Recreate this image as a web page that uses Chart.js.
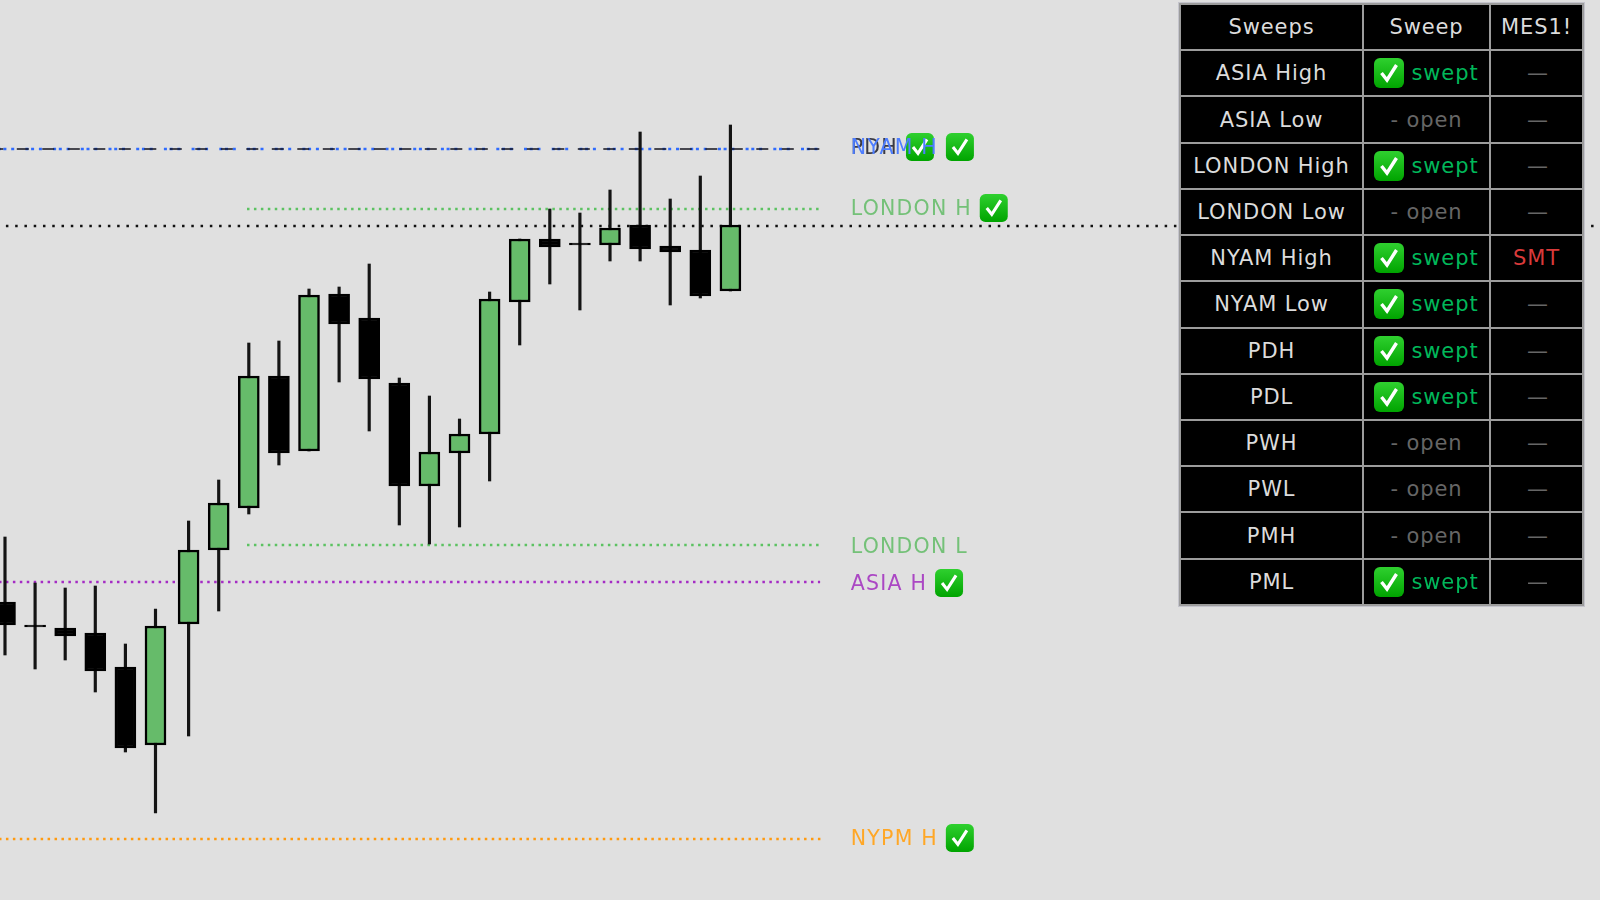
<!DOCTYPE html>
<html>
<head>
<meta charset="utf-8">
<title>Sweeps</title>
<script src="https://cdn.jsdelivr.net/npm/chart.js@4"></script>
<style>
html, body { margin: 0; padding: 0; background: #e0e0e0; width: 1600px; height: 900px; overflow: hidden; }
#grafica { position: absolute; left: 0; top: 0; filter: blur(0.5px); }
#tabla {
    position: absolute; left: 1179px; top: 3px; width: 405px; height: 603px;
    border-collapse: collapse; table-layout: fixed; background: #000;
    font-family: "DejaVu Sans", sans-serif; font-size: 21px; letter-spacing: 0.9px;
    filter: blur(0.5px); outline: 1px solid #c4c4cc;
}
#tabla td { border: 2px solid #9c9c9c; padding: 0; text-align: center; color: #dcdcdc; white-space: nowrap; height: 44px; }
#tabla td.swept { color: #00b85a; }
#tabla td.open { color: #666; }
#tabla td.none { color: #666; padding-left: 3px; }
#tabla td.smt { color: #d93a3a; }
#tabla svg { vertical-align: -8px; margin-right: 7px; }
</style>
</head>
<body>
<canvas id="grafica" width="1600" height="900"></canvas>
<table id="tabla"></table>
<script>
// velas
const barX   = [0, 1, 2, 3, 4, 5, 6.1, 7.1, 8.1, 9.1, 10.1, 11.1, 12.1, 13.1, 14.1, 15.1, 16.1, 17.1, 18.1, 19.1, 20.1, 21.1, 22.1, 23.1, 24.1];
const opens  = [6074.5, 6068.75, 6068, 6066.75, 6058.25, 6038.75, 6069, 6087.5, 6098, 6131, 6112.25, 6151.5, 6145.5, 6129.25, 6103.5, 6111.75, 6116.5, 6149.5, 6165.25, 6164.25, 6163.75, 6168.75, 6163.5, 6162.5, 6152.25];
const highs  = [6090.75, 6079.25, 6078, 6078.5, 6064, 6072.75, 6094.75, 6105, 6139.25, 6139.75, 6152.75, 6153.25, 6159, 6130.5, 6126, 6120.25, 6152, 6165.25, 6172.75, 6171.75, 6177.5, 6192, 6175.25, 6181, 6193.75];
const lows   = [6061.25, 6057.75, 6060, 6052, 6037, 6021.75, 6041, 6072.25, 6096.5, 6108.75, 6112.25, 6129.5, 6117.25, 6093.75, 6089, 6093.25, 6104.75, 6138.75, 6154, 6147.5, 6159.75, 6159.75, 6148.75, 6150.5, 6152.25];
const closes = [6068.75, 6068.25, 6066, 6057.25, 6038, 6068.5, 6087.5, 6099.25, 6131, 6111.75, 6151.25, 6144, 6130.25, 6103.5, 6112, 6116.5, 6150.25, 6165.25, 6163.25, 6163.75, 6168, 6162.75, 6162, 6151, 6168.75];

// niveles
const levelPrices = [6187.75, 6187.75, 6168.5, 6172.75, 6088.75, 6079.5, 6015.25];
const levelStarts = [-0.166, -0.166, 0.03, 8.04, 8.04, -0.166, -0.166];
const levelEnds   = [27.08, 27.08, 52.99, 27.08, 27.08, 27.08, 27.13];
const levelColors = ["#2f6bff", "#14141f", "#111111", "#5cc262", "#5cc262", "#a52cc4", "#ff9a10"];
const levelDashes = [[3, 4.8, 3, 11.2, 3, 2.7], [12, 13.5], [2.5, 6.77], [2.5, 4.44], [2.5, 4.44], [2.5, 4.44], [2.5, 4.44]];
const levelWidths = [2.5, 1.6, 2.5, 2.5, 2.5, 2.5, 2.5];
const levelOffsets = [24.3, 8.7, 0, 0, 0, 1, 1];

// etiquetas
const labelNames  = ["PDH", "NYAM H", "LONDON H", "LONDON L", "ASIA H", "NYPM H"];
const labelPrices = [6187.75, 6187.75, 6172.5, 6088, 6078.75, 6015];
const labelColors = ["#3a3a44", "#4d7dff", "#74c178", "#74c178", "#ab47c4", "#ffa726"];
const labelChecks = [true, true, true, false, true, true];

// tabla
const tableHeaders = ["Sweeps", "Sweep", "MES1!"];
const tableNames = ["ASIA High", "ASIA Low", "LONDON High", "LONDON Low", "NYAM High", "NYAM Low", "PDH", "PDL", "PWH", "PWL", "PMH", "PML"];
const tableStates = ["swept", "open", "swept", "open", "swept", "swept", "swept", "swept", "open", "open", "open", "swept"];
const tableSmt = ["—", "—", "—", "—", "SMT", "—", "—", "—", "—", "—", "—", "—"];

function checkSvg() {
    return '<svg width="30" height="30" viewBox="0 0 30 30"><defs><linearGradient id="g" x1="0" y1="0" x2="0" y2="1">' +
        '<stop offset="0" stop-color="#2fd02f"/><stop offset="1" stop-color="#00a400"/></linearGradient></defs>' +
        '<rect x="0" y="0" width="30" height="30" rx="6" fill="url(#g)"/>' +
        '<path d="M7.5 15 L13 22 L22.5 7" fill="none" stroke="#fff" stroke-width="3.4"/></svg>';
}

function llenarTabla() {
    const tabla = document.getElementById("tabla");
    const widths = [183, 127, 93];
    let html = "<colgroup>";
    for (let w of widths) html += '<col style="width:' + w + 'px">';
    html += "</colgroup><tr>";
    for (let h of tableHeaders) html += "<td>" + h + "</td>";
    html += "</tr>";
    for (let i = 0; i < tableNames.length; i++) {
        html += "<tr><td>" + tableNames[i] + "</td>";
        if (tableStates[i] == "swept") {
            html += '<td class="swept">' + checkSvg() + "swept</td>";
        } else {
            html += '<td class="open">- open</td>';
        }
        html += '<td class="' + (tableSmt[i] == "SMT" ? "smt" : "none") + '">' + tableSmt[i] + "</td></tr>";
    }
    tabla.innerHTML = html;
}

function dibujarCheck(ctx, x, yc, size) {
    const y = yc - size / 2;
    const grad = ctx.createLinearGradient(0, y, 0, y + size);
    grad.addColorStop(0, "#2fd02f");
    grad.addColorStop(1, "#00a400");
    ctx.fillStyle = grad;
    ctx.beginPath();
    ctx.roundRect(x, y, size, size, size * 0.2);
    ctx.fill();
    ctx.strokeStyle = "#fff";
    ctx.lineWidth = size * 0.11;
    ctx.beginPath();
    ctx.moveTo(x + size * 0.25, y + size * 0.5);
    ctx.lineTo(x + size * 0.43, y + size * 0.73);
    ctx.lineTo(x + size * 0.75, y + size * 0.23);
    ctx.stroke();
}

const labelsPlugin = {
    id: "labelsPlugin",
    afterDatasetsDraw(chart) {
        const ctx = chart.ctx;
        const textX = chart.scales.x.getPixelForValue(28.1);
        ctx.save();
        ctx.font = '20.5px "DejaVu Sans", sans-serif';
        ctx.letterSpacing = "1.2px";
        ctx.textBaseline = "middle";
        for (let i = 0; i < labelNames.length; i++) {
            const y = chart.scales.y.getPixelForValue(labelPrices[i]);
            if (labelChecks[i]) {
                dibujarCheck(ctx, textX + ctx.measureText(labelNames[i]).width + 8, y - 2, 28);
            }
            ctx.fillStyle = labelColors[i];
            ctx.fillText(labelNames[i], textX, y);
        }
        ctx.restore();
    }
};

const datasets = [];
datasets.push({
    type: "bar",
    data: barX.map((x, i) => ({ x: x, y: [opens[i], closes[i]] })),
    barThickness: 21,
    backgroundColor: barX.map((x, i) => closes[i] > opens[i] ? "#66bb6a" : "#000000"),
    borderColor: "#000000",
    borderWidth: 2.5,
    borderSkipped: false,
    order: 1
});
datasets.push({
    type: "bar",
    data: barX.map((x, i) => ({ x: x, y: [lows[i], highs[i]] })),
    barThickness: 2.5,
    backgroundColor: "#141414",
    borderWidth: 0,
    order: 2
});
for (let i = 0; i < levelPrices.length; i++) {
    datasets.push({
        type: "line",
        data: [{ x: levelStarts[i], y: levelPrices[i] }, { x: levelEnds[i], y: levelPrices[i] }],
        borderColor: levelColors[i],
        borderWidth: levelWidths[i],
        borderDash: levelDashes[i],
        borderDashOffset: levelOffsets[i],
        pointRadius: 0,
        fill: false,
        order: 10 - i
    });
}

llenarTabla();

new Chart(document.getElementById("grafica").getContext("2d"), {
    data: { datasets: datasets },
    plugins: [labelsPlugin],
    options: {
        responsive: false,
        animation: false,
        layout: { padding: 0 },
        plugins: { legend: { display: false }, tooltip: { enabled: false } },
        datasets: { bar: { grouped: false } },
        scales: {
            x: { type: "linear", display: false, offset: false, min: -0.166, max: 52.99 },
            y: { display: false, min: 6000, max: 6225 }
        }
    }
});
</script>
</body>
</html>
